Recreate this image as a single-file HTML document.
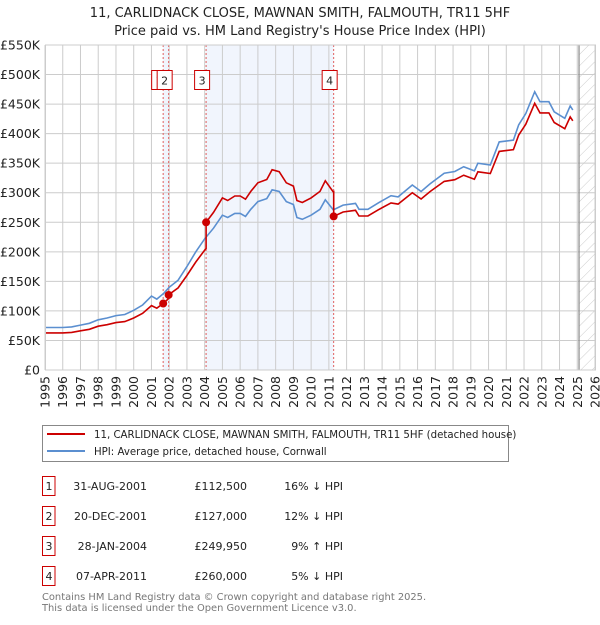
<!DOCTYPE html>
<html><head><meta charset="utf-8"><style>
body{margin:0;background:#fff;font-family:"Liberation Sans","DejaVu Sans",sans-serif;}
svg text{font-family:"DejaVu Sans","Liberation Sans",sans-serif;}
</style></head><body>
<svg id="c" width="600" height="620" xmlns="http://www.w3.org/2000/svg">
<defs><pattern id="hatch" width="8" height="8" patternUnits="userSpaceOnUse" patternTransform="rotate(45)"><line x1="0" y1="0" x2="0" y2="8" stroke="#ccc" stroke-width="1"/></pattern></defs>
<text x="300" y="17" text-anchor="middle" font-size="13" fill="#222">11, CARLIDNACK CLOSE, MAWNAN SMITH, FALMOUTH, TR11 5HF</text>
<text x="300" y="35" text-anchor="middle" font-size="13" fill="#222">Price paid vs. HM Land Registry's House Price Index (HPI)</text>
<g id="plot"></g>
<g>
<rect x="42.5" y="425.5" width="466" height="36" fill="#fff" stroke="#888"/>
<line x1="47" y1="434" x2="85" y2="434" stroke="#cc0000" stroke-width="2"/>
<text x="94" y="438" font-size="10.2" fill="#222">11, CARLIDNACK CLOSE, MAWNAN SMITH, FALMOUTH, TR11 5HF (detached house)</text>
<line x1="47" y1="451" x2="85" y2="451" stroke="#5b8fd0" stroke-width="2"/>
<text x="94" y="455" font-size="10.2" fill="#222">HPI: Average price, detached house, Cornwall</text>
</g>
<g id="table"></g>
<text x="42" y="600" font-size="9.9" fill="#777">Contains HM Land Registry data © Crown copyright and database right 2025.</text>
<text x="42" y="611" font-size="9.9" fill="#777">This data is licensed under the Open Government Licence v3.0.</text>
</svg>
<script>
const hpiYears=[1995,1996,1996.5,1997,1997.5,1998,1998.5,1999,1999.5,2000,2000.5,2001,2001.3,2001.7,2002,2002.5,2003,2003.5,2004,2004.5,2005,2005.3,2005.7,2006,2006.3,2006.6,2007,2007.5,2007.8,2008.2,2008.6,2009,2009.2,2009.5,2010,2010.5,2010.8,2011.25,2011.8,2012.5,2012.7,2013.2,2013.8,2014.5,2014.9,2015.7,2016.2,2016.7,2017.5,2018.1,2018.6,2019.2,2019.4,2020.1,2020.6,2021.4,2021.7,2022.1,2022.6,2022.9,2023.4,2023.7,2024.3,2024.6,2024.75];
const hpiValues=[72,72,73,76,79,85,88,92,94,101,110,125,120,130,140,152,175,200,222,240,262,258,265,265,260,272,285,290,305,302,285,280,258,255,262,272,288,271,279,282,272,272,283,295,293,313,302,315,333,336,344,337,350,347,386,389,415,434,471,454,454,437,426,447,440];
const saleDates=[2001.66,2001.97,2004.08,2011.27];
const salePrices=[112.5,127,249.95,260];
const saleLabels=["31-AUG-2001","20-DEC-2001","28-JAN-2004","07-APR-2011"];
const salePriceText=["£112,500","£127,000","£249,950","£260,000"];
const saleHpiText=["16% ↓ HPI","12% ↓ HPI","9% ↑ HPI","5% ↓ HPI"];
const yTicks=[0,50,100,150,200,250,300,350,400,450,500,550];
const yTickLabels=["£0","£50K","£100K","£150K","£200K","£250K","£300K","£350K","£400K","£450K","£500K","£550K"];
const xTicks=[1995,1996,1997,1998,1999,2000,2001,2002,2003,2004,2005,2006,2007,2008,2009,2010,2011,2012,2013,2014,2015,2016,2017,2018,2019,2020,2021,2022,2023,2024,2025,2026];
const dataEnd=2025.1;

const L=45,R=595,T=45,B=370,X0=1995,X1=2026,YMAX=550;
const xs=v=>L+(v-X0)/(X1-X0)*(R-L);
const ys=v=>B-v/YMAX*(B-T);
const NS="http://www.w3.org/2000/svg";
function mk(tag,attrs,parent){const e=document.createElementNS(NS,tag);for(const k in attrs)e.setAttribute(k,attrs[k]);parent.appendChild(e);return e;}
function hpiAt(t){if(t<=hpiYears[0])return hpiValues[0];for(let i=1;i<hpiYears.length;i++){if(t<=hpiYears[i]){const f=(t-hpiYears[i-1])/(hpiYears[i]-hpiYears[i-1]);return hpiValues[i-1]+f*(hpiValues[i]-hpiValues[i-1]);}}return hpiValues[hpiValues.length-1];}
const plot=document.getElementById('plot');
let r=mk('rect',{x:xs(saleDates[0]),y:T,width:xs(saleDates[1])-xs(saleDates[0]),height:B-T,fill:'#f1f5fd'},plot);


r=mk('rect',{x:xs(saleDates[2]),y:T,width:xs(saleDates[3])-xs(saleDates[2]),height:B-T,fill:'#f1f5fd'},plot);


r=mk('rect',{x:xs(dataEnd),y:T,width:R-xs(dataEnd),height:B-T,fill:'url(#hatch)'},plot);


yTicks.forEach((v,i)=>{
 const g=mk('line',{x1:L,x2:R,y1:ys(v),y2:ys(v),stroke:'#ccc','stroke-width':1},plot);
 
 
 const t=mk('text',{x:L-5,y:ys(v)+4.5,'text-anchor':'end','font-size':12.5,fill:'#222'},plot);
 t.textContent=yTickLabels[i];
 
 
});
xTicks.forEach(v=>{
 const g=mk('line',{x1:xs(v),x2:xs(v),y1:T,y2:B,stroke:'#ccc','stroke-width':1},plot);
 
 
 const t=mk('text',{x:0,y:0,'text-anchor':'end','font-size':12.5,fill:'#222',transform:`translate(${xs(v)+4.5},${B+6}) rotate(-90)`},plot);
 t.textContent=v;
 
 
});
const dl=mk('line',{x1:xs(dataEnd),x2:xs(dataEnd),y1:T,y2:B,stroke:'#888','stroke-width':1.2},plot);


saleDates.forEach((d,i)=>{
 const l=mk('line',{x1:xs(d),x2:xs(d),y1:T,y2:B,stroke:'#e06060','stroke-width':1,'stroke-dasharray':'2,2'},plot);
 
 
});
const hp=hpiYears.map((y,i)=>xs(y).toFixed(1)+','+ys(hpiValues[i]).toFixed(1)).join(' ');
const hl=mk('polyline',{points:hp,fill:'none',stroke:'#5b8fd0','stroke-width':1.6},plot);


const pts=[];
const times=[...hpiYears,...saleDates].sort((a,b)=>a-b);
function ratioAt(t){let k=0;for(let i=0;i<saleDates.length;i++){if(t>=saleDates[i])k=i;}return salePrices[k]/hpiAt(saleDates[k]);}
times.forEach(t=>{
 const idx=saleDates.indexOf(t);
 if(idx>0){const prev=salePrices[idx-1]/hpiAt(saleDates[idx-1]);pts.push([t,hpiAt(t)*prev]);}
 pts.push([t,hpiAt(t)*ratioAt(t)]);
});
const pl=mk('polyline',{points:pts.map(p=>xs(p[0]).toFixed(1)+','+ys(p[1]).toFixed(1)).join(' '),fill:'none',stroke:'#cc0000','stroke-width':1.6},plot);


saleDates.forEach((d,i)=>{
 const c=mk('circle',{cx:xs(d),cy:ys(salePrices[i]),r:4,fill:'#cc0000'},plot);
 
 
});
saleDates.forEach((d,i)=>{
 const cx=xs(d)-4;
 const b=mk('rect',{x:cx-7.5,y:70.5,width:15,height:19,fill:'#fff',stroke:'#cc0000','stroke-width':1},plot);
 
 
 const t=mk('text',{x:cx,y:84.5,'text-anchor':'middle','font-size':11,fill:'#222'},plot);
 t.textContent=String(i+1);
 
 
});
mk('rect',{x:L+0.5,y:T,width:R-L,height:B-T,fill:'none',stroke:'#ccc'},plot);
const tb=document.getElementById('table');
saleLabels.forEach((s,i)=>{
 const y=476+i*30;
 const b=mk('rect',{x:42.5,y:y+0.5,width:12.5,height:19,fill:'#fff',stroke:'#cc0000'},tb);
 
 
 const n=mk('text',{x:49,y:y+14,'text-anchor':'middle','font-size':11,fill:'#222'},tb);
 n.textContent=String(i+1);
 
 
 const a=mk('text',{x:147,y:y+14,'text-anchor':'end','font-size':11,fill:'#222'},tb);
 a.textContent=s;
 
 
 const p=mk('text',{x:247,y:y+14,'text-anchor':'end','font-size':11,fill:'#222'},tb);
 p.textContent=salePriceText[i];
 
 
 const h=mk('text',{x:343,y:y+14,'text-anchor':'end','font-size':11,fill:'#222'},tb);
 h.textContent=saleHpiText[i];
 
 
});
</script>
</body></html>
